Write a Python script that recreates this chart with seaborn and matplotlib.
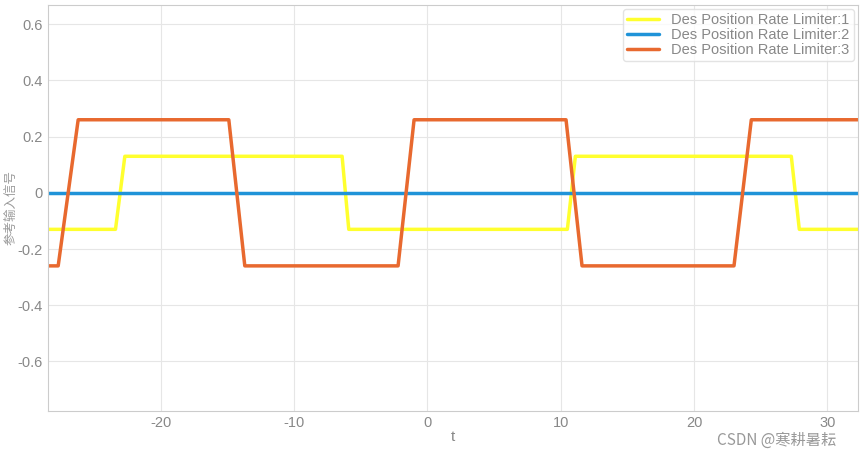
import matplotlib
matplotlib.use('Agg')
import matplotlib.pyplot as plt
import seaborn as sns
import pandas as pd

# breakpoints (t, value)
t1 = [-28.5, -23.4, -22.7, -6.4, -5.9, 10.5, 11.1, 27.3, 27.9, 32.3]
y1 = [-0.13, -0.13, 0.13, 0.13, -0.13, -0.13, 0.13, 0.13, -0.13, -0.13]
t2 = [-28.5, 32.3]
y2 = [0, 0]
t3 = [-28.5, -27.7, -26.2, -14.9, -13.7, -2.2, -1.0, 10.4, 11.6, 23.0, 24.3, 32.3]
y3 = [-0.26, -0.26, 0.26, 0.26, -0.26, -0.26, 0.26, 0.26, -0.26, -0.26, 0.26, 0.26]
names = ['Des Position Rate Limiter:1', 'Des Position Rate Limiter:2', 'Des Position Rate Limiter:3']
colors = ['#FFFF2E', '#1F93D8', '#E8692F']

df = pd.concat([
    pd.DataFrame({'t': t1, 'v': y1, 's': names[0]}),
    pd.DataFrame({'t': t2, 'v': y2, 's': names[1]}),
    pd.DataFrame({'t': t3, 'v': y3, 's': names[2]}),
])

sns.set_style('white')
plt.rcParams['font.family'] = ['Liberation Sans', 'Noto Sans CJK SC', 'DejaVu Sans']
plt.rcParams['axes.unicode_minus'] = False
fig, ax = plt.subplots(figsize=(8.64, 4.54), dpi=100)
fig.subplots_adjust(left=0.055, right=0.993, top=0.99, bottom=0.095)
sns.lineplot(data=df, x='t', y='v', hue='s', palette=colors, linewidth=2.5, sort=False, ax=ax)

ax.set_xlim(-28.5, 32.3)
ax.set_ylim(-0.776, 0.67)
ax.set_xticks([-20, -10, 0, 10, 20, 30])
ax.set_yticks([-0.6, -0.4, -0.2, 0, 0.2, 0.4, 0.6])
ax.set_yticklabels(['-0.6', '-0.4', '-0.2', '0', '0.2', '0.4', '0.6'])
ax.grid(True, color='#e6e6e6', linewidth=0.8)
for s in ax.spines.values():
    s.set_color('#cccccc')
ax.tick_params(colors='#888888', labelsize=10.5, length=0)
ax.set_xlabel('t', color='#888888', fontsize=11, labelpad=0)
ax.set_ylabel('参考输入信号', color='#999999', fontsize=9, labelpad=0,
              family=['Noto Sans CJK SC', 'DejaVu Sans'])
leg = ax.legend(loc='upper right', fontsize=10.5, frameon=True, handlelength=2.2,
                borderaxespad=0.3, labelspacing=0.05, borderpad=0.3)
leg.get_frame().set_edgecolor('#dddddd')
for txt in leg.get_texts():
    txt.set_color('#888888')
fig.text(0.83, 0.02, 'CSDN @寒耕暑耘', fontsize=11, color='#999999',
         family=['Noto Sans CJK SC', 'DejaVu Sans'])
fig.savefig('out.png')
